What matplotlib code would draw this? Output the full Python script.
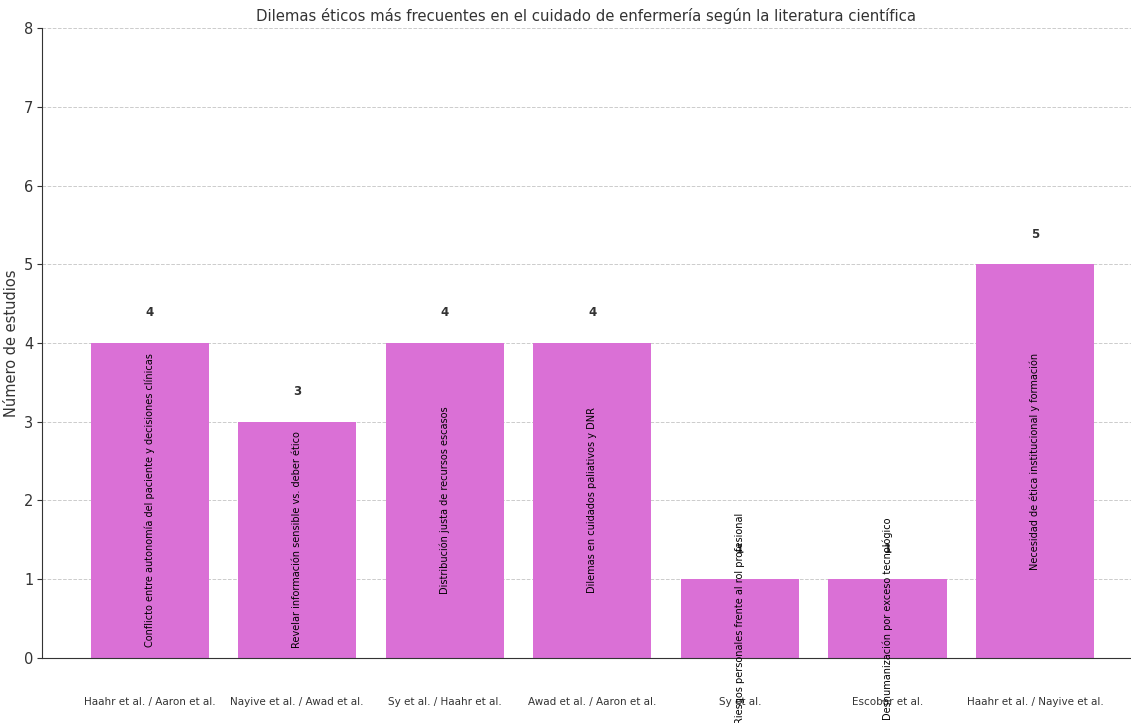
import matplotlib.pyplot as plt

autores = [
    "Haahr et al. / Aaron et al.",
    "Nayive et al. / Awad et al.",
    "Sy et al. / Haahr et al.",
    "Awad et al. / Aaron et al.",
    "Sy et al.",
    "Escobar et al.",
    "Haahr et al. / Nayive et al.",
]
dilemas = [
    "Conflicto entre autonomía del paciente y decisiones clínicas",
    "Revelar información sensible vs. deber ético",
    "Distribución justa de recursos escasos",
    "Dilemas en cuidados paliativos y DNR",
    "Riesgos personales frente al rol profesional",
    "Deshumanización por exceso tecnológico",
    "Necesidad de ética institucional y formación",
]
num_estudios = [4, 3, 4, 4, 1, 1, 5]

fig = plt.figure(figsize=(11.31, 7.23), dpi=100)
ax = fig.add_axes([0.037, 0.09, 0.963, 0.871])

x = list(range(len(autores)))
bars = ax.bar(x, num_estudios, width=0.8, color='orchid', zorder=2)

for bar, texto, valor in zip(bars, dilemas, num_estudios):
    cx = bar.get_x() + bar.get_width() / 2
    ax.text(cx, valor + 0.3, str(valor), ha='center', va='bottom',
            fontsize=8.5, fontweight='bold', color='#333333')
    ax.text(cx, valor / 2, texto, ha='center', va='center', rotation=90,
            fontsize=7.0, color='black')

ax.set_xticks(x)
ax.set_xticklabels(autores, fontsize=7.5, color='#333333')
ax.tick_params(axis='x', length=0, pad=28)
ax.tick_params(axis='y', labelsize=10.5, colors='#333333', pad=2.5)
ax.set_xlim(-0.73, 6.65)
ax.set_ylim(0, 8)
ax.set_ylabel("Número de estudios", fontsize=10.5, color='#333333', labelpad=4)
ax.set_title("Dilemas éticos más frecuentes en el cuidado de enfermería según la literatura científica",
             fontsize=10.7, color='#333333', pad=5)
ax.yaxis.grid(True, linestyle='--', color='#cccccc', linewidth=0.7, zorder=0)
ax.spines['top'].set_visible(False)
ax.spines['right'].set_visible(False)
ax.spines['left'].set_color('#333333')
ax.spines['bottom'].set_color('#333333')

fig.savefig('out.png', dpi=100)
